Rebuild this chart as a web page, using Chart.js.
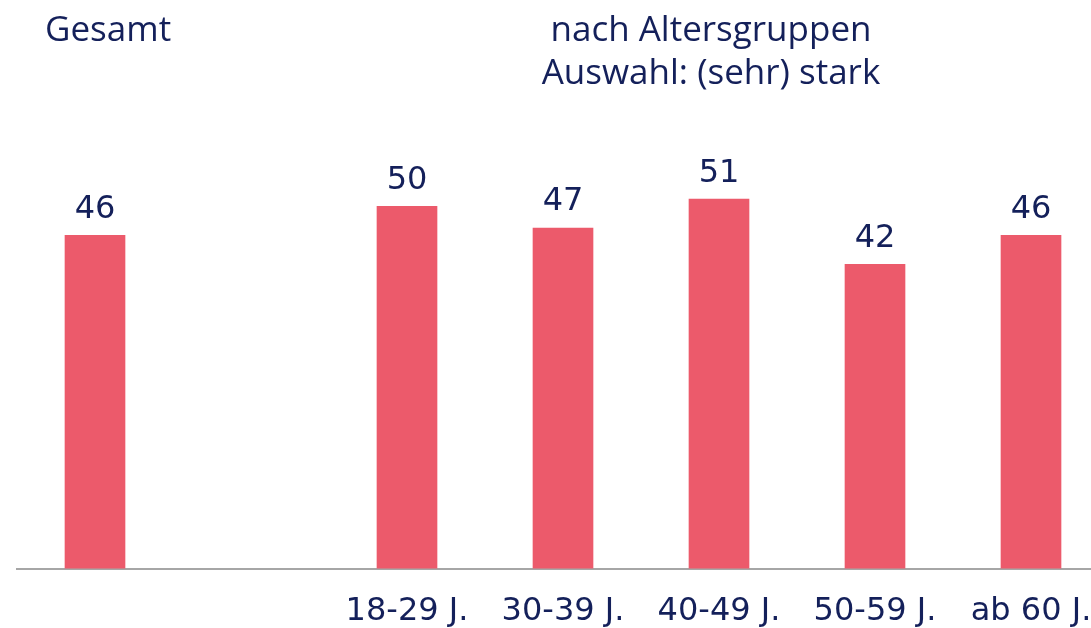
<!DOCTYPE html>
<html>
<head>
<meta charset="utf-8">
<script src="https://cdn.jsdelivr.net/npm/chart.js@4/dist/chart.umd.min.js"></script>
<style>
  html, body { margin: 0; padding: 0; background: #fff; width: 1091px; height: 628px; overflow: hidden; }
  #wrap { position: absolute; left: 0; top: 0; width: 1120px; height: 665px; }
  .head { position: absolute; font-family: "Open Sans", sans-serif; font-size: 35px; color: #14205a; line-height: 43px; white-space: nowrap; }
</style>
</head>
<body>
<div id="wrap"><canvas id="chart" width="1120" height="665"></canvas></div>
<div class="head" style="left:45px; top:6px;">Gesamt</div>
<div class="head" style="left:711px; top:6px; transform:translateX(-50%); text-align:center;">nach Altersgruppen<br>Auswahl: (sehr) stark</div>
<script>
const categories = ['Gesamt', '', '18-29 J.', '30-39 J.', '40-49 J.', '50-59 J.', 'ab 60 J.'];
const values = [46, null, 50, 47, 51, 42, 46];

const navy = '#14205a';

// value labels above the bars
const valueLabels = {
  id: 'valueLabels',
  afterDatasetsDraw(chart) {
    const ctx = chart.ctx;
    const meta = chart.getDatasetMeta(0);
    ctx.save();
    ctx.font = '32px "DejaVu Sans"';
    ctx.fillStyle = navy;
    ctx.textAlign = 'center';
    ctx.textBaseline = 'bottom';
    meta.data.forEach((bar, i) => {
      if (values[i] == null) return;
      ctx.fillText(String(values[i]), bar.x, bar.y - 10);
    });
    ctx.restore();
  }
};

new Chart(document.getElementById('chart'), {
  type: 'bar',
  data: {
    labels: categories,
    datasets: [{
      data: values,
      backgroundColor: '#ec5a6b',
      barThickness: 60
    }]
  },
  options: {
    responsive: false,
    animation: false,
    layout: { padding: { left: 17, right: 11, top: 134, bottom: 10 } },
    plugins: { legend: { display: false }, tooltip: { enabled: false } },
    scales: {
      x: {
        grid: { display: false, drawTicks: false },
        border: { display: true, color: '#a6a6a6', width: 2 },
        ticks: {
          padding: 24,
          color: navy,
          maxRotation: 0,
          autoSkip: false,
          font: { family: 'DejaVu Sans', size: 32 },
          // the overall bar has its heading on top instead of an axis label
          callback: (v, i) => (i === 0 ? '' : categories[i])
        }
      },
      y: {
        display: false,
        min: 0,
        max: 60
      }
    }
  },
  plugins: [valueLabels]
});
</script>
</body>
</html>
